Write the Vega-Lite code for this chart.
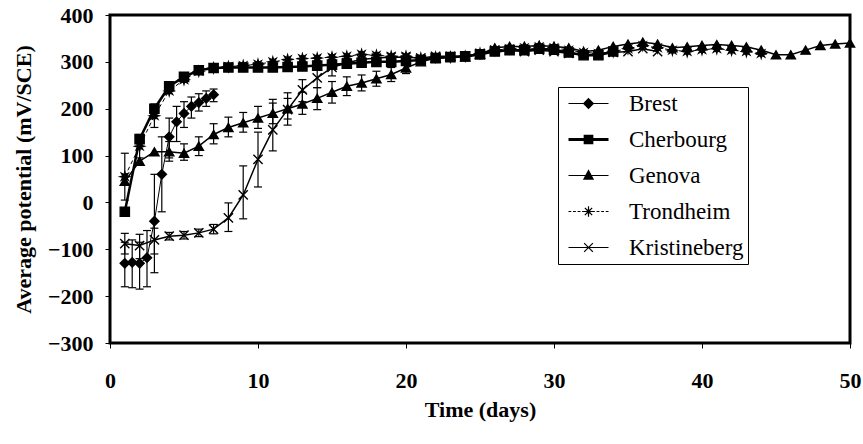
{
  "$schema": "https://vega.github.io/schema/vega-lite/v6.json",
  "width": 740,
  "height": 328,
  "autosize": "none",
  "padding": {"left": 110, "top": 15, "right": 13, "bottom": 101},
  "background": "white",
  "config": {
    "view": {"stroke": "black", "strokeWidth": 3},
    "font": "Liberation Serif",
    "legend": {"labelFont": "Liberation Serif", "labelFontSize": 23, "labelFontWeight": "normal", "labelColor": "black"},
    "axis": {
      "domain": false, "grid": false, "tickColor": "black", "tickSize": 5, "tickWidth": 1,
      "labelFont": "Liberation Serif", "labelFontWeight": "bold", "labelFontSize": 22, "labelColor": "black",
      "titleFont": "Liberation Serif", "titleFontWeight": "bold", "titleFontSize": 22, "titleColor": "black",
      "labelFlush": false, "labelOverlap": false
    }
  },
  "data": {
    "values": [
      {"s": "Brest", "d": 1, "v": -130, "lo": -180, "hi": -85},
      {"s": "Brest", "d": 1.5, "v": -128, "lo": -182, "hi": -80},
      {"s": "Brest", "d": 2, "v": -130, "lo": -185, "hi": -85},
      {"s": "Brest", "d": 2.5, "v": -118, "lo": -180, "hi": -60},
      {"s": "Brest", "d": 3, "v": -40, "lo": -150, "hi": 60},
      {"s": "Brest", "d": 3.5, "v": 60, "lo": -20, "hi": 140},
      {"s": "Brest", "d": 4, "v": 140, "lo": 95, "hi": 180},
      {"s": "Brest", "d": 4.5, "v": 172, "lo": 130, "hi": 205},
      {"s": "Brest", "d": 5, "v": 190, "lo": 160, "hi": 215},
      {"s": "Brest", "d": 5.5, "v": 205, "lo": 180, "hi": 225},
      {"s": "Brest", "d": 6, "v": 213, "lo": 195, "hi": 232},
      {"s": "Brest", "d": 6.5, "v": 222, "lo": 205, "hi": 238},
      {"s": "Brest", "d": 7, "v": 230, "lo": 215, "hi": 242},

      {"s": "Cherbourg", "d": 1, "v": -20},
      {"s": "Cherbourg", "d": 2, "v": 135},
      {"s": "Cherbourg", "d": 3, "v": 200},
      {"s": "Cherbourg", "d": 4, "v": 248},
      {"s": "Cherbourg", "d": 5, "v": 268},
      {"s": "Cherbourg", "d": 6, "v": 282},
      {"s": "Cherbourg", "d": 7, "v": 287},
      {"s": "Cherbourg", "d": 8, "v": 288},
      {"s": "Cherbourg", "d": 9, "v": 288},
      {"s": "Cherbourg", "d": 10, "v": 288},
      {"s": "Cherbourg", "d": 11, "v": 288},
      {"s": "Cherbourg", "d": 12, "v": 289},
      {"s": "Cherbourg", "d": 13, "v": 290},
      {"s": "Cherbourg", "d": 14, "v": 292},
      {"s": "Cherbourg", "d": 15, "v": 294},
      {"s": "Cherbourg", "d": 16, "v": 296},
      {"s": "Cherbourg", "d": 17, "v": 298},
      {"s": "Cherbourg", "d": 18, "v": 300},
      {"s": "Cherbourg", "d": 19, "v": 300},
      {"s": "Cherbourg", "d": 20, "v": 302},
      {"s": "Cherbourg", "d": 21, "v": 304},
      {"s": "Cherbourg", "d": 22, "v": 308},
      {"s": "Cherbourg", "d": 23, "v": 310},
      {"s": "Cherbourg", "d": 24, "v": 312},
      {"s": "Cherbourg", "d": 25, "v": 316},
      {"s": "Cherbourg", "d": 26, "v": 322},
      {"s": "Cherbourg", "d": 27, "v": 325},
      {"s": "Cherbourg", "d": 28, "v": 325},
      {"s": "Cherbourg", "d": 29, "v": 328},
      {"s": "Cherbourg", "d": 30, "v": 326},
      {"s": "Cherbourg", "d": 31, "v": 320},
      {"s": "Cherbourg", "d": 32, "v": 314},
      {"s": "Cherbourg", "d": 33, "v": 314},
      {"s": "Cherbourg", "d": 34, "v": 322},

      {"s": "Genova", "d": 1, "v": 45},
      {"s": "Genova", "d": 2, "v": 88},
      {"s": "Genova", "d": 3, "v": 108},
      {"s": "Genova", "d": 4, "v": 108, "lo": 88, "hi": 130},
      {"s": "Genova", "d": 5, "v": 105, "lo": 90, "hi": 125},
      {"s": "Genova", "d": 6, "v": 120, "lo": 100, "hi": 140},
      {"s": "Genova", "d": 7, "v": 145, "lo": 125, "hi": 168},
      {"s": "Genova", "d": 8, "v": 160, "lo": 140, "hi": 182},
      {"s": "Genova", "d": 9, "v": 170, "lo": 150, "hi": 192},
      {"s": "Genova", "d": 10, "v": 180, "lo": 158, "hi": 205},
      {"s": "Genova", "d": 11, "v": 190, "lo": 168, "hi": 212},
      {"s": "Genova", "d": 12, "v": 200, "lo": 178, "hi": 222},
      {"s": "Genova", "d": 13, "v": 210, "lo": 188, "hi": 235},
      {"s": "Genova", "d": 14, "v": 222, "lo": 198, "hi": 245},
      {"s": "Genova", "d": 15, "v": 235, "lo": 212, "hi": 258},
      {"s": "Genova", "d": 16, "v": 248, "lo": 228, "hi": 268},
      {"s": "Genova", "d": 17, "v": 255, "lo": 238, "hi": 272},
      {"s": "Genova", "d": 18, "v": 264, "lo": 248, "hi": 280},
      {"s": "Genova", "d": 19, "v": 273, "lo": 258, "hi": 288},
      {"s": "Genova", "d": 20, "v": 287, "lo": 275, "hi": 300},
      {"s": "Genova", "d": 21, "v": 300},
      {"s": "Genova", "d": 22, "v": 308},
      {"s": "Genova", "d": 23, "v": 312},
      {"s": "Genova", "d": 24, "v": 310},
      {"s": "Genova", "d": 25, "v": 316},
      {"s": "Genova", "d": 26, "v": 330},
      {"s": "Genova", "d": 27, "v": 333},
      {"s": "Genova", "d": 28, "v": 333},
      {"s": "Genova", "d": 29, "v": 335},
      {"s": "Genova", "d": 30, "v": 333},
      {"s": "Genova", "d": 31, "v": 330},
      {"s": "Genova", "d": 32, "v": 322},
      {"s": "Genova", "d": 33, "v": 325},
      {"s": "Genova", "d": 34, "v": 333},
      {"s": "Genova", "d": 35, "v": 338},
      {"s": "Genova", "d": 36, "v": 342},
      {"s": "Genova", "d": 37, "v": 338},
      {"s": "Genova", "d": 38, "v": 330},
      {"s": "Genova", "d": 39, "v": 332},
      {"s": "Genova", "d": 40, "v": 335},
      {"s": "Genova", "d": 41, "v": 337},
      {"s": "Genova", "d": 42, "v": 335},
      {"s": "Genova", "d": 43, "v": 332},
      {"s": "Genova", "d": 44, "v": 325},
      {"s": "Genova", "d": 45, "v": 315},
      {"s": "Genova", "d": 46, "v": 315},
      {"s": "Genova", "d": 47, "v": 325},
      {"s": "Genova", "d": 48, "v": 335},
      {"s": "Genova", "d": 49, "v": 338},
      {"s": "Genova", "d": 50, "v": 340},

      {"s": "Trondheim", "d": 1, "v": 55, "lo": 5, "hi": 105},
      {"s": "Trondheim", "d": 2, "v": 120, "lo": 95, "hi": 145},
      {"s": "Trondheim", "d": 3, "v": 185, "lo": 160, "hi": 210},
      {"s": "Trondheim", "d": 4, "v": 238},
      {"s": "Trondheim", "d": 5, "v": 262},
      {"s": "Trondheim", "d": 6, "v": 280},
      {"s": "Trondheim", "d": 7, "v": 287},
      {"s": "Trondheim", "d": 8, "v": 290},
      {"s": "Trondheim", "d": 9, "v": 292},
      {"s": "Trondheim", "d": 10, "v": 295},
      {"s": "Trondheim", "d": 11, "v": 300},
      {"s": "Trondheim", "d": 12, "v": 305},
      {"s": "Trondheim", "d": 13, "v": 307},
      {"s": "Trondheim", "d": 14, "v": 308},
      {"s": "Trondheim", "d": 15, "v": 310},
      {"s": "Trondheim", "d": 16, "v": 312},
      {"s": "Trondheim", "d": 17, "v": 316},
      {"s": "Trondheim", "d": 18, "v": 314},
      {"s": "Trondheim", "d": 19, "v": 312},
      {"s": "Trondheim", "d": 20, "v": 312},
      {"s": "Trondheim", "d": 21, "v": 308},
      {"s": "Trondheim", "d": 22, "v": 310},
      {"s": "Trondheim", "d": 23, "v": 310},
      {"s": "Trondheim", "d": 24, "v": 312},
      {"s": "Trondheim", "d": 25, "v": 318},
      {"s": "Trondheim", "d": 26, "v": 325},
      {"s": "Trondheim", "d": 27, "v": 328},
      {"s": "Trondheim", "d": 28, "v": 330},
      {"s": "Trondheim", "d": 29, "v": 332},
      {"s": "Trondheim", "d": 30, "v": 330},
      {"s": "Trondheim", "d": 31, "v": 325},
      {"s": "Trondheim", "d": 32, "v": 320},
      {"s": "Trondheim", "d": 33, "v": 318},
      {"s": "Trondheim", "d": 34, "v": 322},
      {"s": "Trondheim", "d": 35, "v": 328},
      {"s": "Trondheim", "d": 36, "v": 335},
      {"s": "Trondheim", "d": 37, "v": 330},
      {"s": "Trondheim", "d": 38, "v": 325},
      {"s": "Trondheim", "d": 39, "v": 322},
      {"s": "Trondheim", "d": 40, "v": 326},
      {"s": "Trondheim", "d": 41, "v": 328},
      {"s": "Trondheim", "d": 42, "v": 325},
      {"s": "Trondheim", "d": 43, "v": 322},
      {"s": "Trondheim", "d": 44, "v": 318},

      {"s": "Kristineberg", "d": 1, "v": -88, "lo": -110, "hi": -66},
      {"s": "Kristineberg", "d": 2, "v": -92, "lo": -120, "hi": -68},
      {"s": "Kristineberg", "d": 3, "v": -80, "lo": -110, "hi": -55},
      {"s": "Kristineberg", "d": 4, "v": -72, "lo": -80, "hi": -64},
      {"s": "Kristineberg", "d": 5, "v": -70, "lo": -78, "hi": -62},
      {"s": "Kristineberg", "d": 6, "v": -65, "lo": -73, "hi": -57},
      {"s": "Kristineberg", "d": 7, "v": -57, "lo": -67, "hi": -47},
      {"s": "Kristineberg", "d": 8, "v": -33, "lo": -62, "hi": -1},
      {"s": "Kristineberg", "d": 9, "v": 16, "lo": -35, "hi": 78},
      {"s": "Kristineberg", "d": 10, "v": 92, "lo": 33, "hi": 150},
      {"s": "Kristineberg", "d": 11, "v": 155, "lo": 110, "hi": 220},
      {"s": "Kristineberg", "d": 12, "v": 198, "lo": 165, "hi": 234},
      {"s": "Kristineberg", "d": 13, "v": 240, "lo": 215, "hi": 262},
      {"s": "Kristineberg", "d": 14, "v": 266, "lo": 245, "hi": 285},
      {"s": "Kristineberg", "d": 15, "v": 288, "lo": 270, "hi": 305},
      {"s": "Kristineberg", "d": 16, "v": 298},
      {"s": "Kristineberg", "d": 17, "v": 305},
      {"s": "Kristineberg", "d": 18, "v": 308},
      {"s": "Kristineberg", "d": 19, "v": 310},
      {"s": "Kristineberg", "d": 20, "v": 310},
      {"s": "Kristineberg", "d": 21, "v": 308},
      {"s": "Kristineberg", "d": 22, "v": 312},
      {"s": "Kristineberg", "d": 23, "v": 312},
      {"s": "Kristineberg", "d": 24, "v": 312},
      {"s": "Kristineberg", "d": 25, "v": 318},
      {"s": "Kristineberg", "d": 26, "v": 325},
      {"s": "Kristineberg", "d": 27, "v": 325},
      {"s": "Kristineberg", "d": 28, "v": 322},
      {"s": "Kristineberg", "d": 29, "v": 325},
      {"s": "Kristineberg", "d": 30, "v": 322},
      {"s": "Kristineberg", "d": 31, "v": 318},
      {"s": "Kristineberg", "d": 32, "v": 315},
      {"s": "Kristineberg", "d": 33, "v": 315},
      {"s": "Kristineberg", "d": 34, "v": 320},
      {"s": "Kristineberg", "d": 35, "v": 322},
      {"s": "Kristineberg", "d": 36, "v": 328},
      {"s": "Kristineberg", "d": 37, "v": 322}
    ]
  },
  "encoding": {
    "x": {"field": "d", "type": "quantitative", "scale": {"domain": [0, 50], "nice": false},
          "axis": {"values": [0, 10, 20, 30, 40, 50], "labelPadding": 22, "titlePadding": 8}, "title": "Time (days)"},
    "y": {"field": "v", "type": "quantitative", "scale": {"domain": [-300, 400], "nice": false},
          "axis": {"values": [-300, -200, -100, 0, 100, 200, 300, 400], "labelPadding": 12, "titlePadding": 12}, "title": "Average potential (mV/SCE)"}
  },
  "resolve": {"scale": {"shape": "independent"}, "legend": {"shape": "independent"}},
  "layer": [
    {"transform": [{"filter": "datum.s === 'Brest'"}], "mark": {"type": "line", "color": "black", "strokeWidth": 1}},
    {"transform": [{"filter": "datum.s === 'Cherbourg'"}], "mark": {"type": "line", "color": "black", "strokeWidth": 2.5}},
    {"transform": [{"filter": "datum.s === 'Genova'"}], "mark": {"type": "line", "color": "black", "strokeWidth": 1.5}},
    {"transform": [{"filter": "datum.s === 'Trondheim'"}], "mark": {"type": "line", "color": "black", "strokeWidth": 1, "strokeDash": [4, 3]}},
    {"transform": [{"filter": "datum.s === 'Kristineberg'"}], "mark": {"type": "line", "color": "black", "strokeWidth": 1.5}},
    {
      "transform": [{"filter": "isValid(datum.lo)"}],
      "mark": {"type": "errorbar", "ticks": {"size": 8, "color": "black", "opacity": 1}, "rule": {"color": "black", "opacity": 1}, "thickness": 1.2},
      "encoding": {
        "y": {"field": "lo", "type": "quantitative", "scale": {"domain": [-300, 400], "nice": false}, "title": "Average potential (mV/SCE)"},
        "y2": {"field": "hi"}
      }
    },
    {
      "mark": {"type": "point", "filled": true, "fill": "black", "stroke": "black", "strokeWidth": 1.4, "opacity": 1, "size": 85},
      "encoding": {
        "shape": {
          "field": "s", "type": "nominal", "legend": null,
          "scale": {
            "domain": ["Brest", "Cherbourg", "Genova", "Trondheim", "Kristineberg"],
            "range": [
              "diamond",
              "square",
              "triangle-up",
              "M0,-1L0.172,-0.416L0.707,-0.707L0.416,-0.172L1,0L0.416,0.172L0.707,0.707L0.172,0.416L0,1L-0.172,0.416L-0.707,0.707L-0.416,0.172L-1,0L-0.416,-0.172L-0.707,-0.707L-0.172,-0.416Z",
              "M-1,-1L1,1M-1,1L1,-1"
            ]
          }
        }
      }
    },
    {
      "transform": [{"filter": "false"}],
      "mark": {"type": "point", "filled": false, "color": "black", "strokeWidth": 1.2, "opacity": 1},
      "encoding": {
        "shape": {
          "field": "s", "type": "nominal",
          "scale": {
            "domain": ["Brest", "Cherbourg", "Genova", "Trondheim", "Kristineberg"],
            "range": [
              "M-1.74,0H1.74M0,-0.42L0.42,0L0,0.42L-0.42,0ZM0,-0.32L0.32,0L0,0.32L-0.32,0ZM0,-0.22L0.22,0L0,0.22L-0.22,0ZM0,-0.12L0.12,0L0,0.12L-0.12,0Z",
              "M-1.74,-0.08H1.74M-1.74,0H1.74M-1.74,0.08H1.74M-0.37,-0.37H0.37V0.37H-0.37ZM-0.27,-0.27H0.27V0.27H-0.27ZM-0.17,-0.17H0.17V0.17H-0.17ZM-0.07,-0.07H0.07V0.07H-0.07Z",
              "M-1.74,0H1.74M0,-0.44L0.4,0.32H-0.4ZM-0.05,-0.35H0.05M-0.1,-0.26H0.1M-0.15,-0.17H0.15M-0.2,-0.08H0.2M-0.25,0.01H0.25M-0.3,0.1H0.3M-0.34,0.19H0.34M-0.38,0.27H0.38",
              "M-1.74,0H-1.5M-1.35,0H-1.1M-0.95,0H-0.7M-0.55,0H-0.45M0.45,0H0.55M0.7,0H0.95M1.1,0H1.35M1.5,0H1.74M0,-0.45V0.45M-0.45,0H0.45M-0.32,-0.32L0.32,0.32M-0.32,0.32L0.32,-0.32M-0.12,-0.12H0.12V0.12H-0.12ZM-0.05,-0.05H0.05V0.05H-0.05Z",
              "M-1.74,0H1.74M-0.38,-0.38L0.38,0.38M-0.38,0.38L0.38,-0.38"
            ]
          },
          "legend": {
            "title": null,
            "orient": "none",
            "legendX": 448,
            "legendY": 72,
            "strokeColor": "black",
            "fillColor": "white",
            "padding": 4,
            "labelFont": "Liberation Serif",
            "labelFontSize": 23,
            "labelColor": "black",
            "labelOffset": 28,
            "symbolSize": 529,
            "symbolOffset": 14,
            "rowPadding": 11,
            "symbolStrokeColor": "black",
            "symbolStrokeWidth": 1.2,
            "symbolOpacity": 1
          }
        }
      }
    }
  ]
}
